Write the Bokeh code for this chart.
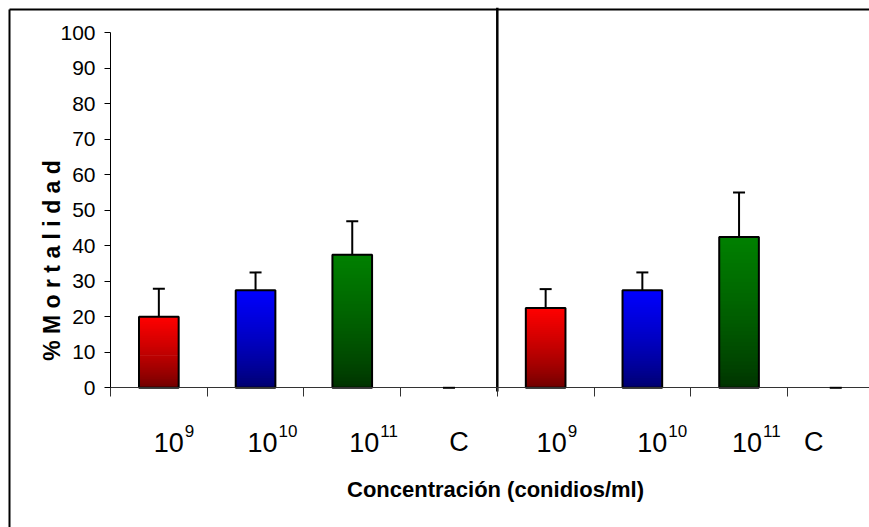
import numpy as np
from math import pi
from bokeh.plotting import figure
from bokeh.models import (Range1d, FixedTicker, Label, Whisker, TeeHead,
                          ColumnDataSource)
from bokeh.embed import file_html
from bokeh.resources import INLINE

# ---- data ----
categories = ["10^9", "10^10", "10^11", "C", "10^9", "10^10", "10^11", "C"]
label_base = ["10", "10", "10", "C", "10", "10", "10", "C"]
label_sup = ["9", "10", "11", "", "9", "10", "11", ""]
mortality = [20.0, 27.5, 37.5, 0.0, 22.5, 27.5, 42.5, 0.0]
error = [7.9, 5.0, 9.4, 0.0, 5.3, 5.0, 12.5, 0.0]
y_ticks = [0, 10, 20, 30, 40, 50, 60, 70, 80, 90, 100]
y_title = "% M o r t a l i d a d"
x_title = "Concentración (conidios/ml)"

# ---- styles / layout ----
top_colors = [(255, 0, 0), (0, 0, 255), (0, 128, 0), (120, 120, 120)] * 2
bottom_colors = [(105, 0, 0), (0, 0, 105), (0, 48, 0), (60, 60, 60)] * 2
label_dx = [25, 22, 27, 10, 21, 25, 23, -22]   # pixel offsets of category labels
FONT = "Liberation Sans"

W, H = 869, 527
pad = 7                 # frame starts 7 px from the top-left corner
x0_px, y0_px = 110.0, 387.3   # pixel position of the axes origin
ppc = 96.7              # pixels per category
ppu = 3.55              # pixels per % unit

def px_x(px):
    return (px - x0_px) / ppc

def px_y(px):
    return (y0_px - px) / ppu

p = figure(width=W, height=H, output_backend="svg", toolbar_location=None,
           title=None,
           x_range=Range1d(px_x(pad), px_x(W)),
           y_range=Range1d(px_y(H), px_y(pad)),
           min_border_left=pad, min_border_right=0,
           min_border_top=pad, min_border_bottom=0)
p.outline_line_color = None
p.grid.visible = False
p.background_fill_color = "white"
p.border_fill_color = "white"

xs = [i + 0.5 for i in range(len(mortality))]
bar_w = 0.41

# gradient bars built from thin slices of each value
n = 40
sx, st, sb, sc = [], [], [], []
for i, v in enumerate(mortality):
    if v <= 0:
        continue
    c0 = np.array(bottom_colors[i], float)
    c1 = np.array(top_colors[i], float)
    for k in range(n):
        t = (k + 0.5) / n
        c = c0 + (c1 - c0) * t ** 0.75
        sx.append(xs[i])
        sb.append(v * k / n)
        st.append(min(v, v * (k + 1.4) / n))
        sc.append("#%02x%02x%02x" % tuple(int(round(q)) for q in c))
p.vbar(x=sx, top=st, bottom=sb, width=bar_w, fill_color=sc, line_color=None)

src = ColumnDataSource(dict(x=xs, value=mortality,
                            upper=[m + e for m, e in zip(mortality, error)],
                            alpha=[1.0 if m > 0 else 0.0 for m in mortality]))
p.vbar(x="x", top="value", bottom=0, width=bar_w, source=src, fill_color=None,
       line_color="black", line_width=2, line_alpha="alpha")

wh = Whisker(source=src, base="x", lower="value", upper="upper",
             line_color="black", line_width=2, lower_head=None,
             upper_head=TeeHead(size=12, line_color="black", line_width=2))
wh.level = "overlay"
p.add_layout(wh)

# divider between the two groups
p.segment(x0=[4], y0=[px_y(391)], x1=[4], y1=[px_y(pad)],
          line_color="black", line_width=2.5)

# outer chart frame (left and top edges only; the rest lies outside the window)
p.segment(x0=[px_x(9), px_x(9)], y0=[px_y(H + 5), px_y(9)],
          x1=[px_x(9), px_x(W + 5)], y1=[px_y(9), px_y(9)],
          line_color="black", line_width=2)

# axes
ya = p.yaxis[0]
ya.fixed_location = 0
ya.ticker = FixedTicker(ticks=y_ticks)
ya.bounds = (0, 100)
ya.major_tick_in = 0
ya.major_tick_out = 6
ya.minor_tick_line_color = None
ya.axis_line_color = "black"
ya.major_tick_line_color = "black"
ya.major_label_text_font = FONT
ya.major_label_text_font_size = "21px"
ya.major_label_text_color = "black"
ya.major_label_standoff = 9

xa = p.xaxis[0]
xa.fixed_location = 0
xa.ticker = FixedTicker(ticks=[], minor_ticks=list(range(len(mortality))))
xa.bounds = (0, px_x(W))
xa.major_tick_line_color = None
xa.minor_tick_in = 0
xa.minor_tick_out = 9
xa.axis_line_color = "#333333"
xa.minor_tick_line_color = "#333333"

# category labels with superscripts
base_y = px_y(y0_px + 54.4)
sup_y = px_y(y0_px + 42.7)
for i in range(len(mortality)):
    if label_sup[i]:
        p.add_layout(Label(x=xs[i], y=base_y, x_offset=label_dx[i],
                           text=label_base[i], text_align="right",
                           text_baseline="alphabetic", text_font=FONT,
                           text_font_size="27px", text_color="black"))
        p.add_layout(Label(x=xs[i], y=sup_y, x_offset=label_dx[i] + 1,
                           text=label_sup[i], text_align="left",
                           text_baseline="alphabetic", text_font=FONT,
                           text_font_size="17px", text_color="black"))
    else:
        p.add_layout(Label(x=xs[i], y=base_y, x_offset=label_dx[i],
                           text=label_base[i], text_align="center",
                           text_baseline="alphabetic", text_font=FONT,
                           text_font_size="27px", text_color="black"))

# axis titles
p.add_layout(Label(x=px_x(495), y=px_y(489), text=x_title, text_align="center",
                   text_baseline="alphabetic", text_font=FONT, text_font_size="22px",
                   text_font_style="bold", text_color="black"))
p.add_layout(Label(x=px_x(51), y=px_y(260), angle=pi / 2, text=y_title,
                   text_align="center", text_baseline="middle", text_font=FONT,
                   text_font_size="23px", text_font_style="bold", text_color="black"))

open("out.html", "w").write(file_html(p, INLINE))
